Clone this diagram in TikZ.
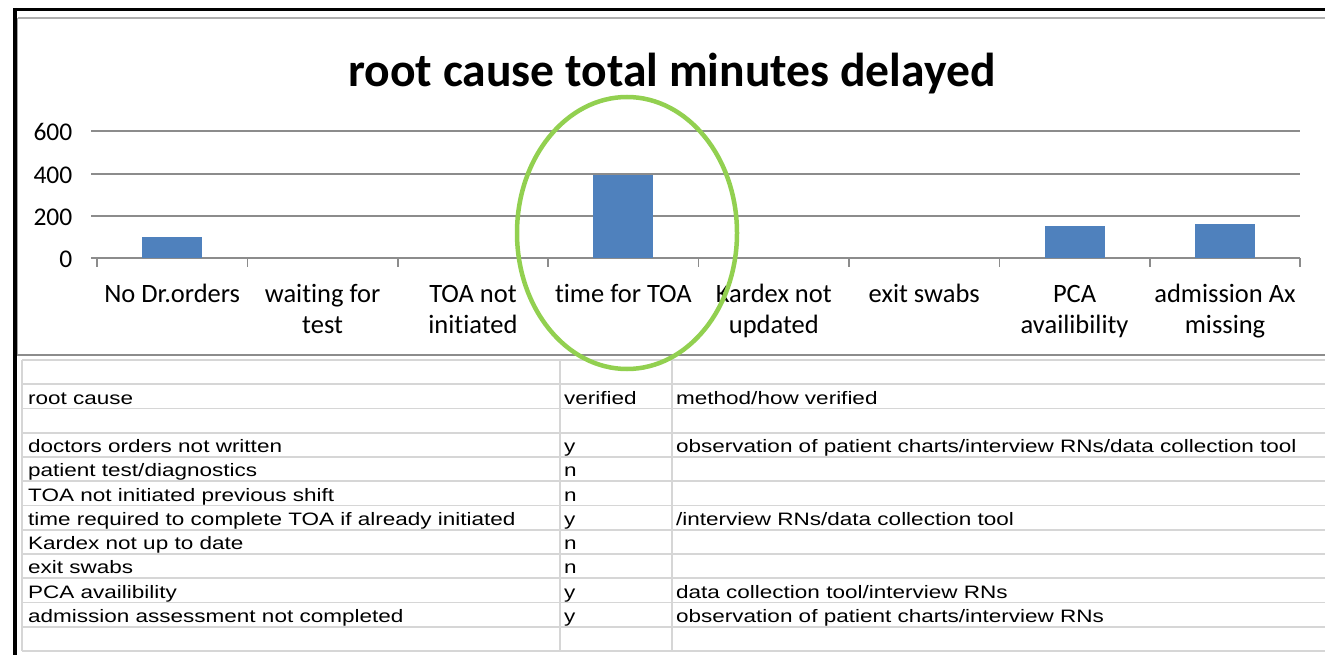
\documentclass[tikz,border=0pt]{standalone}
\usepackage{fontspec}
\setmainfont{Carlito}[Ligatures=NoCommon]
\newfontfamily\tabfont{Liberation Sans}[Ligatures=NoCommon]
\definecolor{barblue}{HTML}{4F81BD}
\definecolor{gridgray}{HTML}{8C8C8C}
\definecolor{cellgray}{HTML}{D6D6D6}
\definecolor{ringgreen}{RGB}{146,208,80}
\newcommand{\tx}[1]{\scalebox{1.25}[1]{#1}}
\tikzset{
  ticklbl/.style={anchor=east,inner sep=0pt,font=\fontsize{25.5}{28}\selectfont},
  catlbl/.style={anchor=base,inner sep=0pt,font=\fontsize{26.5}{30}\selectfont},
  cell/.style={anchor=base west,inner sep=0pt,font=\tabfont\fontsize{18}{20}\selectfont},
  bar/.style={fill=barblue,draw=none},
  gridln/.style={draw=gridgray,line width=1.5pt},
  cellln/.style={draw=cellgray,line width=1.8pt},
}
\begin{document}
\begin{tikzpicture}[x=1pt,y=-1pt]
\useasboundingbox (0,0) rectangle (1325,655);
% frame
\draw[black,line width=3pt] (13,9.5) -- (1325,9.5);
\draw[black,line width=3.5pt] (14.8,8) -- (14.8,655);
\draw[gridgray!70,line width=1.5pt] (17.5,18) -- (1325,18);
\draw[gridgray!80,line width=1pt] (17.5,18) -- (17.5,355);
\draw[gridgray,line width=2pt] (17,355) -- (1325,355);
% title
\node[anchor=base,inner sep=0pt,font=\bfseries\fontsize{47.6}{50}\selectfont] (title) at (672,87) {root cause total minutes delayed};
% gridlines
\foreach \v/\y in {600/131,400/174,200/216,0/258}{
  \draw[gridln] (91,\y) -- (1300,\y);
  \node[ticklbl] (y\v) at (72.5,\y+1) {\v};
}
\foreach \i in {0,...,8}{
  \draw[gridln] (97+150.4*\i,258) -- (97+150.4*\i,267);
}
% bars
\foreach \c/\v in {1/100,4/390,7/150,8/160}{
  \fill[bar] (97+150.4*\c-75.2-30,258) rectangle (97+150.4*\c-75.2+30,258-\v*0.21167);
}
% category labels
\node[catlbl] (c1a) at (172.2,302) {No Dr.orders};
\node[catlbl] (c2a) at (322.6,302) {waiting for};
\node[catlbl] (c2b) at (322.6,333.5) {test};
\node[catlbl] (c3a) at (473,302) {TOA not};
\node[catlbl] (c3b) at (473,333.5) {initiated};
\node[catlbl] (c4a) at (623.4,302) {time for TOA};
\node[catlbl] (c5a) at (773.8,302) {Kardex not};
\node[catlbl] (c5b) at (773.8,333.5) {updated};
\node[catlbl] (c6a) at (924.2,302) {exit swabs};
\node[catlbl] (c7a) at (1074.6,302) {PCA};
\node[catlbl] (c7b) at (1074.6,333.5) {availibility};
\node[catlbl] (c8a) at (1225,302) {admission Ax};
\node[catlbl] (c8b) at (1225,333.5) {missing};
% table grid
\foreach \i in {0,...,12}{
  \draw[cellln] (22,360+24.25*\i) -- (1325,360+24.25*\i);
}
\draw[cellln] (22,360) -- (22,651);
\draw[cellln] (560,360) -- (560,651);
\draw[cellln] (672,360) -- (672,651);
% table text
\foreach \r/\a/\b/\c in {
  2/root cause/verified/method\slash how verified,
  4/doctors orders not written/y/observation of patient charts\slash interview RNs\slash data collection tool,
  5/patient test\slash diagnostics/n/,
  6/TOA not initiated previous shift/n/,
  7/time required to complete TOA if already initiated/y/\slash interview RNs\slash data collection tool,
  8/Kardex not up to date/n/,
  9/exit swabs/n/,
  10/PCA availibility/y/data collection tool\slash interview RNs,
  11/admission assessment not completed/y/observation of patient charts\slash interview RNs}{
  \node[cell] (a\r) at (28,360+24.25*\r-4.5) {\tx{\a}};
  \node[cell] (b\r) at (564,360+24.25*\r-4.5) {\tx{\b}};
  \node[cell] (m\r) at (676,360+24.25*\r-4.5) {\tx{\c}};
}
% highlight ellipse
\draw[ringgreen,line width=4.5pt] (627,233) ellipse [x radius=110,y radius=136];
\end{tikzpicture}
\end{document}
